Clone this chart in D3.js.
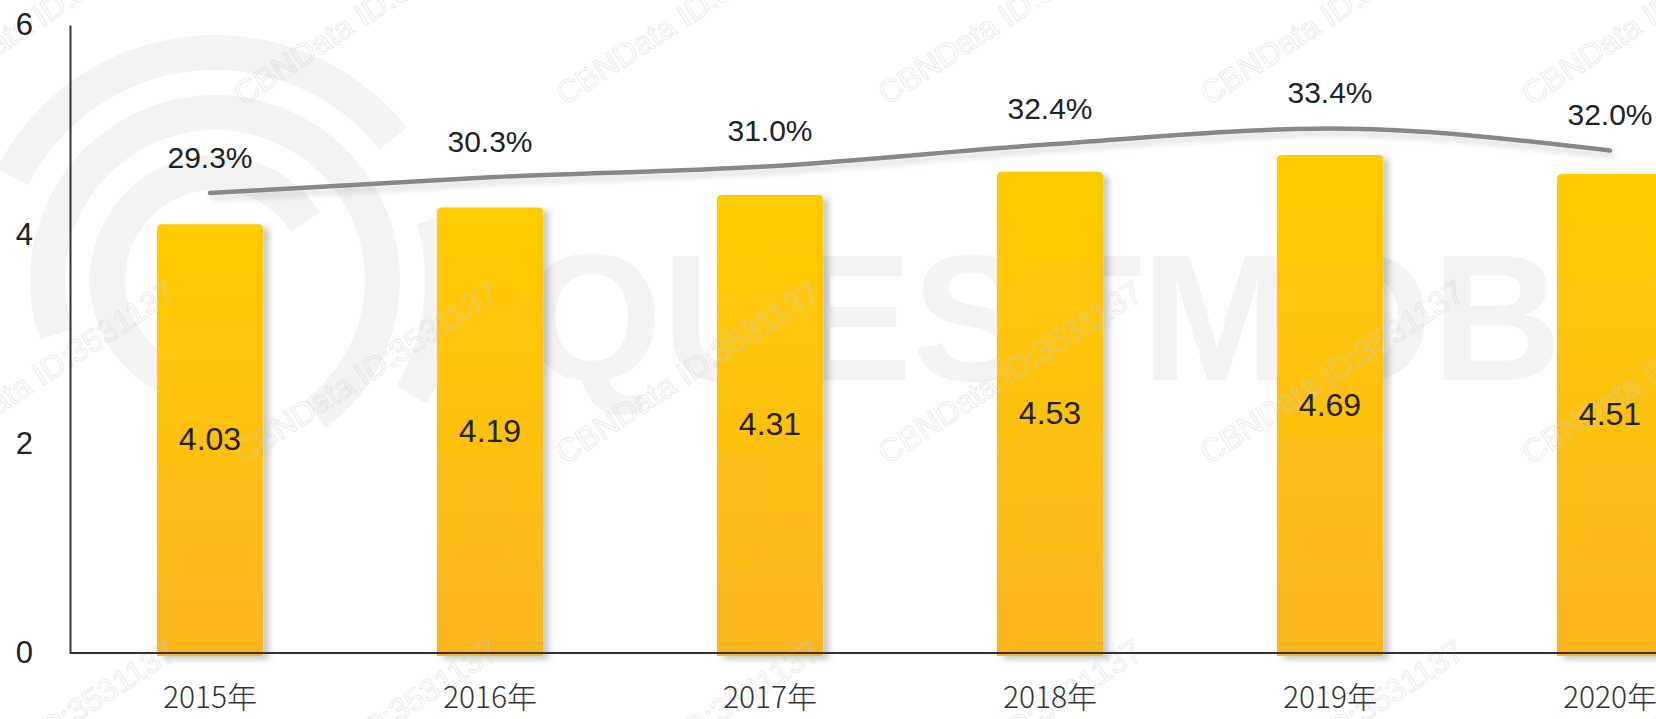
<!DOCTYPE html>
<html>
<head>
<meta charset="utf-8">
<script src="https://cdnjs.cloudflare.com/ajax/libs/d3/7.8.5/d3.min.js"></script>
<style>
    html, body { margin: 0; padding: 0; background: #fff; overflow: hidden; }
    svg { display: block; }
</style>
</head>
<body>
<div id="chart"></div>
<script>
"use strict";

// data
var years = ["2015年", "2016年", "2017年", "2018年", "2019年", "2020年"];
var values = [4.03, 4.19, 4.31, 4.53, 4.69, 4.51];
var shares = [29.3, 30.3, 31.0, 32.4, 33.4, 32.0];
var yTicks = [0, 2, 4, 6];
var shareMax = 40;

var width = 1656;
var height = 719;
var axisLeft = 70;
var axisTop = 25;
var axisBottom = 653;
var barLift = 7;
var barRadius = 5;
var labelFont = "'Liberation Sans', Arial, sans-serif";

var svg = d3.select("#chart").append("svg")
    .attr("width", width)
    .attr("height", height);

var defs = svg.append("defs");

var gradient = defs.append("linearGradient")
    .attr("id", "barGradient")
    .attr("x1", "0%").attr("y1", "0%")
    .attr("x2", "0%").attr("y2", "100%");
gradient.append("stop").attr("offset", "0%").attr("stop-color", "#ffcc00");
gradient.append("stop").attr("offset", "100%").attr("stop-color", "#fbb620");

var barShadow = defs.append("filter")
    .attr("id", "barShadow")
    .attr("x", "-10%").attr("y", "-10%")
    .attr("width", "130%").attr("height", "120%");
barShadow.append("feDropShadow")
    .attr("dx", 6).attr("dy", 3)
    .attr("stdDeviation", 3)
    .attr("flood-color", "#000")
    .attr("flood-opacity", 0.22);

var lineShadow = defs.append("filter")
    .attr("id", "lineShadow")
    .attr("x", "-5%").attr("y", "-50%")
    .attr("width", "110%").attr("height", "200%");
lineShadow.append("feDropShadow")
    .attr("dx", 2).attr("dy", 5)
    .attr("stdDeviation", 3)
    .attr("flood-color", "#000")
    .attr("flood-opacity", 0.15);

var x = d3.scaleBand()
    .domain(years)
    .range([axisLeft, axisLeft + 280 * years.length])
    .paddingInner(0.621)
    .paddingOuter(0.3105);

var y = d3.scaleLinear()
    .domain([0, 6])
    .range([axisBottom, axisTop]);

var yShare = d3.scaleLinear()
    .domain([0, shareMax])
    .range([axisBottom, axisTop]);

var center = function (d) {
    return x(d) + x.bandwidth() / 2;
};

// background watermark (logo + wordmark)
var watermark = svg.append("g").attr("class", "watermark-back");
var logoArc = d3.arc();
[[90, 125, -2.7, 1.0], [150, 185, -1.9, 2.5], [210, 245, -1.1, 0.9], [210, 245, 1.3, 2.1]].forEach(function (a) {
    watermark.append("path")
        .attr("transform", "translate(215,280)")
        .attr("d", logoArc({innerRadius: a[0], outerRadius: a[1], startAngle: a[2], endAngle: a[3]}))
        .style("fill", "#f3f3f3");
});
watermark.append("text")
    .attr("x", 522)
    .attr("y", 380)
    .style("font-family", labelFont)
    .style("font-weight", 700)
    .style("font-size", "180px")
    .style("fill", "#f3f3f3")
    .text("QUESTMOBILE");

// bars
var barPath = function (d, i) {
    var x0 = x(d);
    var x1 = x0 + x.bandwidth();
    var top = y(values[i]) - barLift;
    var bottom = y(0) + 3;
    var r = barRadius;
    return "M" + x0 + "," + bottom +
        "V" + (top + r) +
        "Q" + x0 + "," + top + " " + (x0 + r) + "," + top +
        "H" + (x1 - r) +
        "Q" + x1 + "," + top + " " + x1 + "," + (top + r) +
        "V" + bottom + "Z";
};

svg.append("g")
    .attr("class", "bars")
    .selectAll("path")
    .data(years)
    .enter()
    .append("path")
    .attr("d", barPath)
    .style("fill", "url(#barGradient)")
    .attr("filter", "url(#barShadow)");

// id watermark (faint, under the labels)
var marks = svg.append("g").attr("class", "watermark-front");
for (var j = 0; j < 3; j++) {
    for (var i = 0; i < 6; i++) {
        marks.append("text")
            .attr("transform", "translate(" + (-79 + 322 * i) + "," + (106 + 359 * j) + ") rotate(-33)")
            .style("font-family", labelFont)
            .style("font-size", "32px")
            .style("fill", "none")
            .style("stroke", "#cfcfcf")
            .style("stroke-opacity", 0.4)
            .style("stroke-width", 1.1)
            .text("CBNData ID:3531137");
    }
}

svg.append("g")
    .attr("class", "bar-labels")
    .selectAll("text")
    .data(years)
    .enter()
    .append("text")
    .attr("x", center)
    .attr("y", function (d, i) {
        return ((y(values[i]) - barLift) + y(0)) / 2;
    })
    .attr("dy", "0.36em")
    .attr("text-anchor", "middle")
    .style("font-family", labelFont)
    .style("font-size", "32px")
    .style("fill", "#222")
    .text(function (d, i) { return values[i].toFixed(2); });

// share line
var line = d3.line()
    .x(function (d, i) { return center(years[i]); })
    .y(function (d) { return yShare(d); })
    .curve(d3.curveMonotoneX);

svg.append("path")
    .datum(shares)
    .attr("d", line)
    .attr("filter", "url(#lineShadow)")
    .style("fill", "none")
    .style("stroke", "#888")
    .style("stroke-width", 4.5)
    .style("stroke-linecap", "round");

svg.append("g")
    .attr("class", "share-labels")
    .selectAll("text")
    .data(shares)
    .enter()
    .append("text")
    .attr("x", function (d, i) { return center(years[i]); })
    .attr("y", function (d) { return yShare(d) - 36; })
    .attr("dy", "0.36em")
    .attr("text-anchor", "middle")
    .style("font-family", labelFont)
    .style("font-size", "30px")
    .style("fill", "#222")
    .text(function (d) { return d.toFixed(1) + "%"; });

// axes
var yAxis = svg.append("g")
    .attr("transform", "translate(" + axisLeft + ",0)")
    .call(d3.axisLeft(y).tickValues(yTicks).tickSize(0).tickPadding(37).tickFormat(d3.format("d")));
yAxis.select(".domain").style("stroke", "#333").style("stroke-width", 2);
yAxis.selectAll("text")
    .style("font-family", labelFont)
    .style("font-size", "31px")
    .style("fill", "#222");

var xAxis = svg.append("g")
    .attr("transform", "translate(0," + axisBottom + ")")
    .call(d3.axisBottom(x).tickSize(0).tickPadding(34));
xAxis.select(".domain")
    .attr("d", "M" + axisLeft + ",0H" + width)
    .style("stroke", "#333")
    .style("stroke-width", 2);
xAxis.selectAll("text")
    .style("font-family", "'Noto Sans CJK SC', 'Noto Sans', sans-serif")
    .style("font-weight", 300)
    .style("font-size", "30px")
    .style("fill", "#333");
</script>
</body>
</html>
